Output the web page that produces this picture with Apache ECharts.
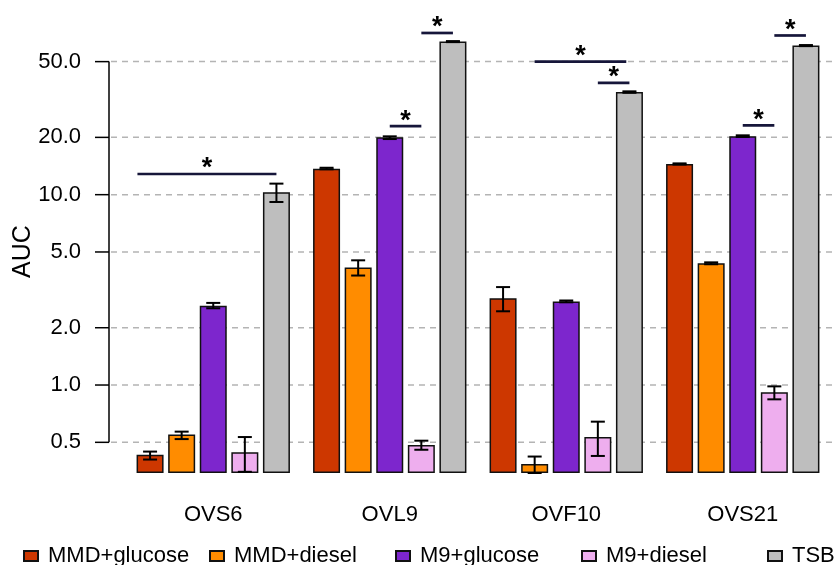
<!DOCTYPE html>
<html>
<head>
<meta charset="utf-8">
<script src="https://cdn.jsdelivr.net/npm/echarts@6/dist/echarts.min.js"></script>
<style>
html, body { margin: 0; padding: 0; background: #fff; }
#chart { width: 835px; height: 565px; }
</style>
</head>
<body>
<div id="chart"></div>
<script>
// data
const categories = ['OVS6', 'OVL9', 'OVF10', 'OVS21'];
const seriesNames = ['MMD+glucose', 'MMD+diesel', 'M9+glucose', 'M9+diesel', 'TSB'];

const mmdGlucose = [0.43, 13.7, 2.86, 14.5];
const mmdDiesel = [0.549, 4.14, 0.385, 4.36];
const m9Glucose = [2.61, 20.0, 2.75, 20.3];
const m9Diesel = [0.443, 0.484, 0.533, 0.916];
const tsb = [10.29, 63.7, 34.6, 60.7];

// error bars [low, high]
const mmdGlucoseErr = [[0.406, 0.447], [13.6, 13.85], [2.44, 3.27], [14.4, 14.6]];
const mmdDieselErr = [[0.520, 0.569], [3.76, 4.52], [0.345, 0.421], [4.31, 4.41]];
const m9GlucoseErr = [[2.53, 2.70], [19.6, 20.25], [2.72, 2.78], [20.1, 20.5]];
const m9DieselErr = [[0.35, 0.533], [0.457, 0.510], [0.424, 0.642], [0.841, 0.984]];
const tsbErr = [[9.15, 11.43], [63.3, 64.1], [34.3, 34.9], [60.3, 61.1]];

// significance brackets: category, from bar slot, to bar slot, height
const sigCategory = [0, 1, 1, 2, 2, 3, 3];
const sigFrom = [-0.4, 2, 3, 1, 3, 2, 3];
const sigTo = [4, 3, 4, 3.9, 4, 3, 4];
const sigLevel = [12.84, 22.9, 70.7, 50.0, 38.7, 23.1, 68.6];

const yTicks = [0.5, 1, 2, 5, 10, 20, 50];
const Y_MIN = 0.345;
const Y_MAX = 73.3;

const colors = ['#CD3700', '#FF8C00', '#7D26CD', '#EEAEEE', '#BEBEBE'];
const FONT = '"Liberation Sans", Arial, Helvetica, sans-serif';
const BAR_W = 27;
const BAR_GAP = 0.17;
const PITCH = BAR_W * (1 + BAR_GAP);
const AXIS_SHIFT = 16;

const values = [mmdGlucose, mmdDiesel, m9Glucose, m9Diesel, tsb];
const errors = [mmdGlucoseErr, mmdDieselErr, m9GlucoseErr, m9DieselErr, tsbErr];

let errData = [];
errors.forEach((errs, s) => {
	errs.forEach((e, c) => errData.push([c, e[0], e[1], s]));
});
let sigData = sigCategory.map((c, i) => [c, sigLevel[i], sigFrom[i], sigTo[i]]);

function renderAxis(params, api) {
	let cs = params.coordSys;
	let ax = cs.x - AXIS_SHIFT;
	let y = api.coord([0, api.value(1)])[1];
	return {
		type: 'group',
		children: [
			{type: 'line', shape: {x1: ax + 2, y1: y, x2: 835, y2: y},
				style: {stroke: '#b4b4b4', lineWidth: 1.5, lineDash: [6, 5]}},
			{type: 'line', shape: {x1: ax - 14, y1: y, x2: ax, y2: y},
				style: {stroke: '#000', lineWidth: 1.5}},
			{type: 'text', x: ax - 28, y: y,
				style: {text: api.value(1).toFixed(1), align: 'right', verticalAlign: 'middle',
					fontSize: 22, fontFamily: FONT, fill: '#000'}}
		]
	};
}

function renderAxisLine(params, api) {
	let cs = params.coordSys;
	let ax = cs.x - AXIS_SHIFT;
	let lo = api.coord([0, yTicks[0]])[1];
	let hi = api.coord([0, yTicks[yTicks.length - 1]])[1];
	return {type: 'line', shape: {x1: ax, y1: lo, x2: ax, y2: hi}, style: {stroke: '#000', lineWidth: 1.5}};
}

function renderErr(params, api) {
	let c = api.value(0);
	let lo = api.coord([c, api.value(1)]);
	let hi = api.coord([c, api.value(2)]);
	let x = lo[0] + (api.value(3) - 2) * PITCH;
	let st = {stroke: '#000', lineWidth: 2};
	return {
		type: 'group',
		children: [
			{type: 'line', shape: {x1: x, y1: lo[1], x2: x, y2: hi[1]}, style: st},
			{type: 'line', shape: {x1: x - 7, y1: lo[1], x2: x + 7, y2: lo[1]}, style: st},
			{type: 'line', shape: {x1: x - 7, y1: hi[1], x2: x + 7, y2: hi[1]}, style: st}
		]
	};
}

function renderSig(params, api) {
	let p = api.coord([api.value(0), api.value(1)]);
	let x1 = p[0] + (api.value(2) - 2) * PITCH;
	let x2 = p[0] + (api.value(3) - 2) * PITCH;
	return {
		type: 'group',
		children: [
			{type: 'line', shape: {x1: x1, y1: p[1], x2: x2, y2: p[1]},
				style: {stroke: '#16163a', lineWidth: 2.7}},
			{type: 'text', x: (x1 + x2) / 2, y: p[1] - 5,
				style: {text: '*', align: 'center', verticalAlign: 'middle',
					fontSize: 27, fontWeight: 'bold', fontFamily: FONT, fill: '#000'}}
		]
	};
}

let chart = echarts.init(document.getElementById('chart'));

// one legend per entry so the columns sit on an even pitch like the original
let legends = seriesNames.map((n, i) => ({
	left: 23 + i * 186,
	top: 545,
	padding: 0,
	itemWidth: 14,
	itemHeight: 10,
	icon: 'rect',
	selectedMode: false,
	textStyle: {fontSize: 22, fontFamily: FONT, color: '#000', padding: [0, 0, 0, 5]},
	data: [n]
}));

let option = {
	animation: false,
	textStyle: {fontFamily: FONT},
	grid: {left: 125, right: 4, top: 30, bottom: 92},
	legend: legends,
	xAxis: {
		type: 'category',
		data: categories,
		axisLine: {show: false},
		axisTick: {show: false},
		axisLabel: {fontSize: 22, margin: 31, color: '#000', fontFamily: FONT}
	},
	yAxis: {
		type: 'log',
		min: Y_MIN,
		max: Y_MAX,
		startValue: Y_MIN,
		name: 'AUC',
		nameLocation: 'middle',
		nameGap: 89,
		nameTextStyle: {fontSize: 25, color: '#000', fontFamily: FONT},
		axisLine: {show: false},
		axisTick: {show: false},
		axisLabel: {show: false},
		splitLine: {show: false}
	},
	series: [
		{
			type: 'custom',
			silent: true,
			z: 0,
			renderItem: renderAxis,
			encode: {x: 0, y: 1},
			data: yTicks.map(v => [0, v])
		},
		{
			type: 'custom',
			silent: true,
			z: 1,
			renderItem: renderAxisLine,
			encode: {x: 0, y: 1},
			data: [[0, yTicks[0]]]
		}
	].concat(seriesNames.map((name, i) => ({
		type: 'bar',
		name: name,
		data: values[i],
		barWidth: BAR_W,
		barGap: (BAR_GAP * 100) + '%',
		z: 2,
		itemStyle: {color: colors[i], borderColor: '#111', borderWidth: 1.5},
		emphasis: {disabled: true}
	}))).concat([
		{
			type: 'custom',
			silent: true,
			z: 3,
			renderItem: renderErr,
			encode: {x: 0, y: [1, 2]},
			data: errData
		},
		{
			type: 'custom',
			silent: true,
			z: 4,
			renderItem: renderSig,
			encode: {x: 0, y: 1},
			data: sigData
		}
	])
};

chart.setOption(option);
</script>
</body>
</html>
